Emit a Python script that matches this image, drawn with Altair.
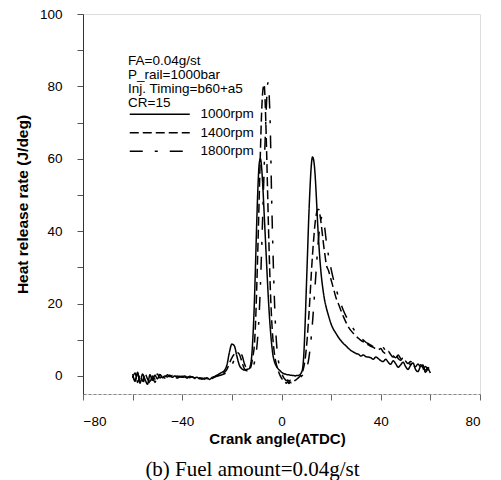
import altair as alt
import pandas as pd

series_names = ["1000rpm", "1400rpm", "1800rpm"]

angle = [
    -60, -59, -58, -57, -56, -55, -54, -53, -52, -51, -50, -49, -48, -47, -46, -45,
    -44, -43, -42, -41, -40, -39, -38, -37, -36, -35, -34, -33, -32, -31, -30, -29,
    -28, -27, -26, -25, -24, -23, -22, -21, -20, -19, -18, -17, -16, -15, -14,
    -13, -12.5, -12, -11.5, -11, -10.5, -10, -9.5, -9, -8.5, -8, -7.5, -7, -6.5, -6, -5.5,
    -5, -4.5, -4, -3.5, -3, -2.5, -2, -1.5, -1, -0.5,
    0, 0.5, 1, 1.5, 2, 2.5, 3, 3.5, 4, 4.5, 5, 5.5, 6, 6.5, 7, 7.5, 8, 8.5, 9, 9.5,
    10, 10.5, 11, 11.5, 12, 12.5, 13, 13.5, 14, 14.5, 15, 15.5, 16, 16.5, 17, 17.5, 18,
    19, 20, 21, 22, 23, 24, 25, 26, 27, 28, 29, 30, 31, 32, 33, 34, 35, 36, 37, 38, 39,
    40, 41, 42, 43, 44, 45, 46, 47, 48, 49, 50, 51, 52, 53, 54, 55, 56, 57, 58, 59, 60,
]

hrr_1000 = [
    0.5, -1.5, 1.0, -2.0, 0.5, -1.0, -2.3, 0.3, -1.2, 0.2, -0.8, 0.4, -0.5, 0.0, -0.3, 0.2,
    -0.4, 0.0, -0.3, -0.1, -0.2, 0.0, -0.4, -0.1, -0.3, -0.5, -0.4, -0.8, -0.6, -0.9, -0.5, -1.0,
    -0.4, -0.2, 0.2, 0.6, 1.0, 1.5, 3.0, 6.5, 8.8, 8.3, 5.5, 3.0, 2.0, 1.6, 1.8,
    2.0, 3.0, 5.5, 11, 19, 30, 42, 52, 58.5, 60, 57.5, 52, 45, 38, 31, 24,
    18, 13, 9, 6, 4.3, 3.3, 2.6, 2.1, 1.7, 1.4,
    1.0, 0.8, 0.6, 0.5, 0.4, 0.3, 0.3, 0.2, 0.2, 0.1, 0.1, 0.0, 0.1, 0.1, 0.2, 0.4, 0.9, 2.0, 6, 14,
    24, 34, 44, 52, 58, 60.5, 59.5, 56, 50, 43, 37, 32, 28, 25, 22.5, 20.5, 19,
    16.5, 14.3, 12.8, 11.7, 10.6, 9.7, 8.9, 8.3, 7.6, 7.0, 6.6, 6.2, 6.0, 5.5, 5.8, 5.3, 5.2, 5.0, 4.6, 5.2, 4.8,
    4.2, 4.0, 4.6, 3.8, 3.2, 4.2, 3.4, 2.4, 3.0, 3.8, 2.6, 1.8, 2.9, 3.6, 1.8, 1.2, 2.6, 3.0, 1.0, 1.8, 0.8,
]

hrr_1400 = [
    -0.5, 0.8, -1.8, 0.2, -1.5, 0.6, -0.8, -2.0, 0.0, -0.9, 0.5, -0.6, 0.1, -0.4, 0.3, -0.2,
    0.1, -0.5, 0.0, -0.3, -0.1, -0.4, -0.2, -0.5, -0.2, -0.7, -0.5, -0.6, -0.9, -0.6, -0.8, -0.5,
    -0.7, -0.3, 0.0, 0.3, 0.6, 1.0, 1.8, 3.5, 5.0, 6.0, 6.5, 6.0, 4.0, 2.0, 1.4,
    1.6, 2.2, 3.5, 5.5, 8, 14, 24, 36, 49, 62, 73, 79, 80.5, 74, 62, 48,
    35, 24, 16, 10.5, 7, 4.6, 3.0, 1.8, 0.8, 0.0,
    -0.6, -1.1, -1.5, -1.8, -2.0, -1.6, -2.1, -1.7, -1.9, -1.5, -1.6, -1.2, -1.0, -0.7, -0.4, 0.0, 0.5, 1.2, 2.5, 4.5,
    7.5, 11.5, 16.5, 22, 28, 33.5, 38, 42, 44.5, 46, 46, 44.5, 42, 39, 36, 33.5, 31,
    29, 26.5, 24, 21.5, 19.8, 18.0, 16.3, 14.8, 13.5, 12.5, 11.7, 11.0, 10.4, 9.8, 9.4, 8.9, 8.6, 8.2, 7.9, 7.5, 7.2,
    7.6, 6.6, 6.2, 6.8, 5.9, 5.2, 5.9, 4.8, 4.3, 5.0, 4.1, 3.4, 4.0, 3.1, 2.5, 3.3, 2.4, 1.8, 2.6, 2.0, 1.5,
]

hrr_1800 = [
    0.0, -1.2, 0.5, -1.0, -2.2, -0.3, 0.4, -1.5, -0.5, -1.8, -0.2, -1.0, -0.3, -0.6, -0.1, -0.5,
    -0.2, -0.3, -0.6, -0.2, -0.4, -0.3, -0.6, -0.3, -0.5, -0.4, -0.8, -0.5, -0.7, -0.4, -0.6, -0.3,
    -0.5, -0.2, -0.1, 0.1, 0.3, 0.6, 1.0, 1.8, 3.0, 4.5, 5.8, 6.2, 5.8, 3.5, 2.0,
    1.8, 1.9, 2.1, 2.6, 3.5, 5.0, 7.5, 11.5, 17, 25, 35, 46, 57, 67, 76, 81,
    78, 68, 50, 36, 24, 15, 9, 5.5, 3.2, 1.8,
    0.8, 0.0, -0.6, -1.0, -1.3, -1.1, -1.5, -1.2, -1.6, -1.3, -1.4, -1.2, -1.0, -0.8, -0.6, -0.4, -0.1, 0.2, 0.6, 1.1,
    1.8, 3.0, 4.8, 7.4, 10.8, 14.8, 19.5, 24.5, 29.5, 34.5, 38.5, 41.5, 43.5, 44, 43, 40.5, 37.5,
    33, 29.5, 26.5, 24, 21.8, 19.8, 18.0, 16.5, 15.2, 14.0, 13.0, 12.0, 11.2, 10.4, 9.9, 9.3, 8.9, 8.5, 8.1, 7.7, 7.5,
    7.0, 7.8, 6.8, 6.3, 6.6, 5.6, 5.0, 5.8, 4.8, 4.2, 4.9, 3.9, 3.2, 3.8, 3.0, 2.4, 3.1, 2.2, 1.6, 2.3, 1.4,
]

legend_title = ["FA=0.04g/st", "P_rail=1000bar", "Inj. Timing=b60+a5", "CR=15"]
caption = "(b) Fuel amount=0.04g/st"

rows = []
for name, vals in zip(series_names, [hrr_1000, hrr_1400, hrr_1800]):
    for a, v in zip(angle, vals):
        rows.append({"angle": a, "hrr": v, "speed": name})
df = pd.DataFrame(rows)

FONT = "Liberation Sans"

lines = alt.Chart(df).mark_line(strokeWidth=1.5, color="black", interpolate="monotone").encode(
    x=alt.X(
        "angle:Q",
        scale=alt.Scale(domain=[-80, 80], nice=False),
        axis=alt.Axis(
            title="Crank angle(ATDC)",
            values=[-80, -60, -40, -20, 0, 20, 40, 60, 80],
            labelExpr="datum.value % 40 == 0 ? datum.label : ''",
            grid=False,
            domainColor="#888888",
            domainDash=[3, 2],
            domainWidth=1,
            tickColor="#666666",
            tickSize=6,
            labelPadding=14,
            labelFontSize=13.5,
            labelFont=FONT,
            labelColor="black",
            titleFont=FONT,
            titleFontSize=15,
            titleFontWeight="bold",
            titleColor="black",
            titleX=194,
            titleY=44,
            titleBaseline="middle",
            titleAlign="center",
        ),
    ),
    y=alt.Y(
        "hrr:Q",
        scale=alt.Scale(domain=[-5, 100], nice=False),
        axis=alt.Axis(
            title="Heat release rate (J/deg)",
            values=[0, 10, 20, 30, 40, 50, 60, 70, 80, 90, 100],
            labelExpr="datum.value % 20 == 0 ? datum.label : ''",
            grid=False,
            domainColor="#333333",
            domainWidth=1,
            tickColor="#555555",
            tickSize=6,
            labelPadding=15,
            labelFontSize=13.5,
            labelFont=FONT,
            labelColor="black",
            titleFont=FONT,
            titleFontSize=15.5,
            titleFontWeight="bold",
            titleColor="black",
            titleAngle=270,
            titleX=-61,
            titleY=190,
            titleBaseline="middle",
            titleAlign="center",
        ),
    ),
    strokeDash=alt.StrokeDash(
        "speed:N",
        scale=alt.Scale(domain=series_names, range=[[1, 0], [9, 4], [13, 12, 3, 12]]),
        legend=alt.Legend(
            title=legend_title,
            orient="none",
            legendX=45,
            legendY=40,
            padding=0,
            symbolType="M-1,0H11",
            symbolSize=100,
            symbolStrokeWidth=1.5,
            symbolStrokeColor="black",
            symbolFillColor="transparent",
            symbolOffset=0,
            labelOffset=59,
            labelFont=FONT,
            labelFontSize=13.5,
            labelColor="black",
            titleFont=FONT,
            titleFontSize=13.5,
            titleFontWeight="normal",
            titleColor="black",
            titleLineHeight=14,
            titlePadding=-2,
            rowPadding=3.5,
        ),
    ),
    detail="speed:N",
)

chart = lines.properties(
    width=397,
    height=380,
    title=alt.TitleParams(
        caption,
        orient="bottom",
        font="Liberation Serif",
        fontSize=21,
        fontWeight="normal",
        color="black",
        anchor="middle",
        dx=-29,
        offset=13,
    ),
    autosize=alt.AutoSizeParams(type="none"),
    padding={"left": 83, "top": 14, "right": 21, "bottom": 86},
).configure_view(stroke=None).configure(background="white")

chart.save("out.html", embed_options={"renderer": "svg", "actions": False})
